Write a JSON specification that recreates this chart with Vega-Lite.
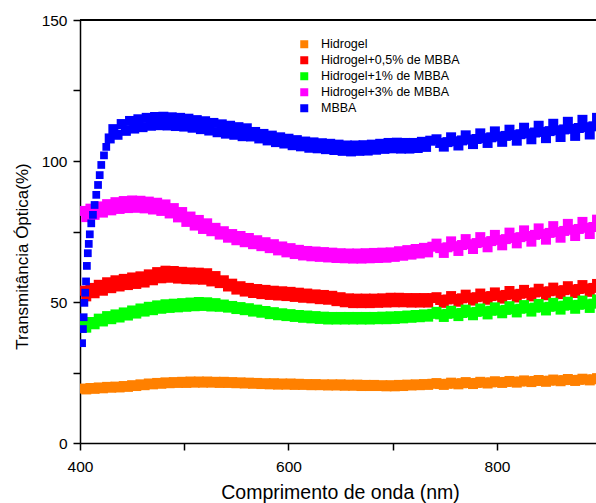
{
"$schema": "https://vega.github.io/schema/vega-lite/v6.json",
"width": 516,
"height": 423,
"autosize": {"type": "none"},
"padding": {"left": 80, "top": 20, "right": 0, "bottom": 60},
"background": "white",
"config": {
  "font": "Liberation Sans",
  "view": {"stroke": null},
  "axis": {"grid": false, "domainColor": "black", "domainWidth": 1.5, "tickColor": "black", "tickWidth": 1.5, "labelColor": "black", "labelFont": "Liberation Sans", "titleColor": "black", "titleFont": "Liberation Sans", "titleFontWeight": "normal"}
},
"datasets": {
"hidrogel": [
{"x":402,"y":19.3},{"x":406,"y":19.0},{"x":410,"y":19.5},{"x":414,"y":19.2},{"x":418,"y":19.7},{"x":422,"y":19.4},{"x":426,"y":19.9},{"x":430,"y":19.6},{"x":434,"y":20.0},{"x":438,"y":19.7},{"x":442,"y":20.2},{"x":446,"y":19.9},{"x":450,"y":20.5},{"x":454,"y":20.2},{"x":458,"y":20.8},{"x":462,"y":20.5},{"x":466,"y":21.1},{"x":470,"y":20.8},{"x":474,"y":21.3},{"x":478,"y":21.0},{"x":482,"y":21.5},{"x":486,"y":21.2},{"x":490,"y":21.6},{"x":494,"y":21.3},{"x":498,"y":21.7},{"x":502,"y":21.3},{"x":506,"y":21.8},{"x":510,"y":21.4},{"x":514,"y":21.8},{"x":518,"y":21.4},{"x":522,"y":21.8},{"x":526,"y":21.4},{"x":530,"y":21.7},{"x":534,"y":21.3},{"x":538,"y":21.7},{"x":542,"y":21.3},{"x":546,"y":21.6},{"x":550,"y":21.2},{"x":554,"y":21.5},{"x":558,"y":21.1},{"x":562,"y":21.4},{"x":566,"y":21.0},{"x":570,"y":21.3},{"x":574,"y":20.9},{"x":578,"y":21.2},{"x":582,"y":20.8},{"x":586,"y":21.2},{"x":590,"y":20.7},{"x":594,"y":21.1},{"x":598,"y":20.7},{"x":602,"y":21.1},{"x":606,"y":20.6},{"x":610,"y":21.0},{"x":614,"y":20.6},{"x":618,"y":20.9},{"x":622,"y":20.5},{"x":626,"y":20.9},{"x":630,"y":20.5},{"x":634,"y":20.8},{"x":638,"y":20.4},{"x":642,"y":20.8},{"x":646,"y":20.4},{"x":650,"y":20.8},{"x":654,"y":20.3},{"x":658,"y":20.7},{"x":662,"y":20.3},{"x":666,"y":20.7},{"x":670,"y":20.2},{"x":674,"y":20.6},{"x":678,"y":20.2},{"x":682,"y":20.6},{"x":686,"y":20.2},{"x":690,"y":20.5},{"x":694,"y":20.1},{"x":698,"y":20.5},{"x":702,"y":20.1},{"x":706,"y":20.6},{"x":710,"y":20.2},{"x":714,"y":20.7},{"x":718,"y":20.4},{"x":722,"y":20.8},{"x":726,"y":20.5},{"x":730,"y":20.9},{"x":734,"y":20.6},{"x":738,"y":21.0},
{"x":742,"y":21.25},{"x":745.5,"y":20.9},{"x":749,"y":20.6},{"x":752.5,"y":21.0},{"x":756,"y":21.4},{"x":759.5,"y":21.1},{"x":763,"y":20.8},{"x":766.5,"y":21.2},{"x":770,"y":21.6},{"x":773.5,"y":21.25},{"x":777,"y":20.9},{"x":780.5,"y":21.3},{"x":784,"y":21.7},{"x":787.5,"y":21.4},{"x":791,"y":21.1},{"x":794.5,"y":21.5},{"x":798,"y":21.9},{"x":801.5,"y":21.6},{"x":805,"y":21.3},{"x":808.5,"y":21.65},{"x":812,"y":22.0},{"x":815.5,"y":21.7},{"x":819,"y":21.4},{"x":822.5,"y":21.8},{"x":826,"y":22.2},{"x":829.5,"y":21.9},{"x":833,"y":21.6},{"x":836.5,"y":22.0},{"x":840,"y":22.35},{"x":843.5,"y":22.0},{"x":847,"y":21.7},{"x":850.5,"y":22.1},{"x":854,"y":22.5},{"x":857.5,"y":22.2},{"x":861,"y":21.9},{"x":864.5,"y":22.3},{"x":868,"y":22.7},{"x":871.5,"y":22.35},{"x":875,"y":22.0},{"x":878.5,"y":22.4},{"x":882,"y":22.8},{"x":885.5,"y":22.5},{"x":889,"y":22.2},{"x":892.5,"y":22.6},{"x":896,"y":23.0}
],
"h05": [
{"x":402,"y":54.0},{"x":406,"y":52.0},{"x":410,"y":55.0},{"x":414,"y":53.1},{"x":418,"y":56.1},{"x":422,"y":54.0},{"x":426,"y":57.0},{"x":430,"y":54.9},{"x":434,"y":57.7},{"x":438,"y":55.5},{"x":442,"y":58.2},{"x":446,"y":56.0},{"x":450,"y":58.7},{"x":454,"y":56.4},{"x":458,"y":59.1},{"x":462,"y":56.9},{"x":466,"y":59.8},{"x":470,"y":57.7},{"x":474,"y":60.6},{"x":478,"y":58.4},{"x":482,"y":61.1},{"x":486,"y":58.6},{"x":490,"y":61.0},{"x":494,"y":58.3},{"x":498,"y":60.7},{"x":502,"y":58.1},{"x":506,"y":60.5},{"x":510,"y":58.0},{"x":514,"y":60.4},{"x":518,"y":57.9},{"x":522,"y":60.2},{"x":526,"y":57.3},{"x":530,"y":59.2},{"x":534,"y":56.7},{"x":538,"y":57.7},{"x":542,"y":55.5},{"x":546,"y":56.5},{"x":550,"y":54.4},{"x":554,"y":55.6},{"x":558,"y":53.7},{"x":562,"y":55.0},{"x":566,"y":53.2},{"x":570,"y":54.6},{"x":574,"y":52.8},{"x":578,"y":54.3},{"x":582,"y":52.5},{"x":586,"y":54.0},{"x":590,"y":52.3},{"x":594,"y":53.8},{"x":598,"y":52.1},{"x":602,"y":53.6},{"x":606,"y":51.8},{"x":610,"y":53.3},{"x":614,"y":51.5},{"x":618,"y":53.0},{"x":622,"y":51.3},{"x":626,"y":52.7},{"x":630,"y":51.0},{"x":634,"y":52.5},{"x":638,"y":50.8},{"x":642,"y":52.2},{"x":646,"y":50.3},{"x":650,"y":51.7},{"x":654,"y":49.9},{"x":658,"y":51.3},{"x":662,"y":49.6},{"x":666,"y":51.2},{"x":670,"y":49.6},{"x":674,"y":51.2},{"x":678,"y":49.6},{"x":682,"y":51.2},{"x":686,"y":49.7},{"x":690,"y":51.3},{"x":694,"y":49.8},{"x":698,"y":51.5},{"x":702,"y":49.9},{"x":706,"y":51.5},{"x":710,"y":49.9},{"x":714,"y":51.4},{"x":718,"y":49.8},{"x":722,"y":51.4},{"x":726,"y":49.8},{"x":730,"y":51.4},{"x":734,"y":49.8},{"x":738,"y":51.4},
{"x":742,"y":51.7},{"x":745.5,"y":50.7},{"x":749,"y":49.7},{"x":752.5,"y":50.9},{"x":756,"y":52.1},{"x":759.5,"y":51.1},{"x":763,"y":50.1},{"x":766.5,"y":51.3},{"x":770,"y":52.6},{"x":773.5,"y":51.5},{"x":777,"y":50.5},{"x":780.5,"y":51.7},{"x":784,"y":53.0},{"x":787.5,"y":51.9},{"x":791,"y":50.8},{"x":794.5,"y":52.1},{"x":798,"y":53.4},{"x":801.5,"y":52.3},{"x":805,"y":51.2},{"x":808.5,"y":52.5},{"x":812,"y":53.9},{"x":815.5,"y":52.7},{"x":819,"y":51.6},{"x":822.5,"y":52.9},{"x":826,"y":54.3},{"x":829.5,"y":53.2},{"x":833,"y":52.0},{"x":836.5,"y":53.4},{"x":840,"y":54.7},{"x":843.5,"y":53.6},{"x":847,"y":52.4},{"x":850.5,"y":53.8},{"x":854,"y":55.1},{"x":857.5,"y":54.0},{"x":861,"y":52.8},{"x":864.5,"y":54.2},{"x":868,"y":55.6},{"x":871.5,"y":54.4},{"x":875,"y":53.2},{"x":878.5,"y":54.6},{"x":882,"y":56.0},{"x":885.5,"y":54.8},{"x":889,"y":53.6},{"x":892.5,"y":55.0},{"x":896,"y":56.4}
],
"h1": [
{"x":402,"y":41.7},{"x":406,"y":40.9},{"x":410,"y":42.9},{"x":414,"y":42.1},{"x":418,"y":44.1},{"x":422,"y":43.1},{"x":426,"y":45.0},{"x":430,"y":43.9},{"x":434,"y":45.6},{"x":438,"y":44.5},{"x":442,"y":46.3},{"x":446,"y":45.2},{"x":450,"y":47.0},{"x":454,"y":45.9},{"x":458,"y":47.7},{"x":462,"y":46.6},{"x":466,"y":48.3},{"x":470,"y":47.1},{"x":474,"y":48.8},{"x":478,"y":47.6},{"x":482,"y":49.2},{"x":486,"y":47.9},{"x":490,"y":49.4},{"x":494,"y":48.1},{"x":498,"y":49.6},{"x":502,"y":48.3},{"x":506,"y":49.8},{"x":510,"y":48.5},{"x":514,"y":50.0},{"x":518,"y":48.6},{"x":522,"y":49.9},{"x":526,"y":48.4},{"x":530,"y":49.6},{"x":534,"y":48.3},{"x":538,"y":49.1},{"x":542,"y":48.0},{"x":546,"y":48.6},{"x":550,"y":47.5},{"x":554,"y":48.2},{"x":558,"y":47.1},{"x":562,"y":47.8},{"x":566,"y":46.6},{"x":570,"y":47.3},{"x":574,"y":46.2},{"x":578,"y":46.8},{"x":582,"y":45.7},{"x":586,"y":46.4},{"x":590,"y":45.3},{"x":594,"y":46.0},{"x":598,"y":45.0},{"x":602,"y":45.7},{"x":606,"y":44.7},{"x":610,"y":45.4},{"x":614,"y":44.4},{"x":618,"y":45.2},{"x":622,"y":44.2},{"x":626,"y":45.0},{"x":630,"y":44.0},{"x":634,"y":44.8},{"x":638,"y":43.8},{"x":642,"y":44.7},{"x":646,"y":43.8},{"x":650,"y":44.7},{"x":654,"y":43.8},{"x":658,"y":44.7},{"x":662,"y":43.8},{"x":666,"y":44.7},{"x":670,"y":43.8},{"x":674,"y":44.7},{"x":678,"y":43.8},{"x":682,"y":44.7},{"x":686,"y":43.9},{"x":690,"y":44.8},{"x":694,"y":43.9},{"x":698,"y":44.9},{"x":702,"y":44.0},{"x":706,"y":45.0},{"x":710,"y":44.2},{"x":714,"y":45.2},{"x":718,"y":44.4},{"x":722,"y":45.4},{"x":726,"y":44.6},{"x":730,"y":45.6},{"x":734,"y":44.8},{"x":738,"y":45.8},
{"x":742,"y":46.5},{"x":745.5,"y":45.6},{"x":749,"y":44.7},{"x":752.5,"y":45.8},{"x":756,"y":46.9},{"x":759.5,"y":46.0},{"x":763,"y":45.0},{"x":766.5,"y":46.1},{"x":770,"y":47.3},{"x":773.5,"y":46.3},{"x":777,"y":45.3},{"x":780.5,"y":46.5},{"x":784,"y":47.7},{"x":787.5,"y":46.7},{"x":791,"y":45.6},{"x":794.5,"y":46.9},{"x":798,"y":48.1},{"x":801.5,"y":47.0},{"x":805,"y":46.0},{"x":808.5,"y":47.2},{"x":812,"y":48.5},{"x":815.5,"y":47.4},{"x":819,"y":46.3},{"x":822.5,"y":47.6},{"x":826,"y":48.9},{"x":829.5,"y":47.8},{"x":833,"y":46.6},{"x":836.5,"y":48.0},{"x":840,"y":49.3},{"x":843.5,"y":48.1},{"x":847,"y":47.0},{"x":850.5,"y":48.3},{"x":854,"y":49.7},{"x":857.5,"y":48.5},{"x":861,"y":47.3},{"x":864.5,"y":48.7},{"x":868,"y":50.1},{"x":871.5,"y":48.9},{"x":875,"y":47.6},{"x":878.5,"y":49.0},{"x":882,"y":50.5},{"x":885.5,"y":49.2},{"x":889,"y":47.9},{"x":892.5,"y":49.4},{"x":896,"y":50.9}
],
"h3": [
{"x":402,"y":82.3},{"x":406,"y":80.1},{"x":410,"y":83.1},{"x":414,"y":80.9},{"x":418,"y":83.9},{"x":422,"y":81.7},{"x":426,"y":84.7},{"x":430,"y":82.5},{"x":434,"y":85.4},{"x":438,"y":83.0},{"x":442,"y":85.8},{"x":446,"y":83.3},{"x":450,"y":86.0},{"x":454,"y":83.4},{"x":458,"y":85.9},{"x":462,"y":83.2},{"x":466,"y":85.6},{"x":470,"y":82.8},{"x":474,"y":85.2},{"x":478,"y":82.3},{"x":482,"y":84.6},{"x":486,"y":81.4},{"x":490,"y":83.3},{"x":494,"y":80.0},{"x":498,"y":81.9},{"x":502,"y":78.4},{"x":506,"y":80.3},{"x":510,"y":77.1},{"x":514,"y":79.1},{"x":518,"y":75.9},{"x":522,"y":77.9},{"x":526,"y":75.1},{"x":530,"y":76.3},{"x":534,"y":73.9},{"x":538,"y":75.1},{"x":542,"y":72.8},{"x":546,"y":74.1},{"x":550,"y":71.9},{"x":554,"y":73.4},{"x":558,"y":71.2},{"x":562,"y":72.7},{"x":566,"y":70.5},{"x":570,"y":71.9},{"x":574,"y":69.8},{"x":578,"y":71.2},{"x":582,"y":69.1},{"x":586,"y":70.5},{"x":590,"y":68.3},{"x":594,"y":69.7},{"x":598,"y":67.6},{"x":602,"y":69.1},{"x":606,"y":67.0},{"x":610,"y":68.5},{"x":614,"y":66.5},{"x":618,"y":68.1},{"x":622,"y":66.2},{"x":626,"y":67.9},{"x":630,"y":66.0},{"x":634,"y":67.7},{"x":638,"y":65.8},{"x":642,"y":67.5},{"x":646,"y":65.6},{"x":650,"y":67.3},{"x":654,"y":65.5},{"x":658,"y":67.2},{"x":662,"y":65.4},{"x":666,"y":67.2},{"x":670,"y":65.4},{"x":674,"y":67.3},{"x":678,"y":65.5},{"x":682,"y":67.4},{"x":686,"y":65.6},{"x":690,"y":67.5},{"x":694,"y":65.7},{"x":698,"y":67.6},{"x":702,"y":66.0},{"x":706,"y":68.0},{"x":710,"y":66.4},{"x":714,"y":68.4},{"x":718,"y":66.8},{"x":722,"y":68.8},{"x":726,"y":67.2},{"x":730,"y":69.2},{"x":734,"y":67.6},{"x":738,"y":69.6},
{"x":742,"y":70.7},{"x":745.5,"y":69.1},{"x":749,"y":67.4},{"x":752.5,"y":69.4},{"x":756,"y":71.5},{"x":759.5,"y":69.8},{"x":763,"y":68.1},{"x":766.5,"y":70.2},{"x":770,"y":72.3},{"x":773.5,"y":70.5},{"x":777,"y":68.8},{"x":780.5,"y":70.9},{"x":784,"y":73.0},{"x":787.5,"y":71.2},{"x":791,"y":69.4},{"x":794.5,"y":71.6},{"x":798,"y":73.8},{"x":801.5,"y":72.0},{"x":805,"y":70.1},{"x":808.5,"y":72.3},{"x":812,"y":74.6},{"x":815.5,"y":72.7},{"x":819,"y":70.8},{"x":822.5,"y":73.0},{"x":826,"y":75.4},{"x":829.5,"y":73.4},{"x":833,"y":71.4},{"x":836.5,"y":73.8},{"x":840,"y":76.1},{"x":843.5,"y":74.1},{"x":847,"y":72.1},{"x":850.5,"y":74.5},{"x":854,"y":76.9},{"x":857.5,"y":74.8},{"x":861,"y":72.8},{"x":864.5,"y":75.2},{"x":868,"y":77.7},{"x":871.5,"y":75.6},{"x":875,"y":73.4},{"x":878.5,"y":75.9},{"x":882,"y":78.4},{"x":885.5,"y":76.3},{"x":889,"y":74.1},{"x":892.5,"y":76.6},{"x":896,"y":79.2}
],
"mbba": [
{"x":428.5,"y":108.0},
{"x":432,"y":111.3},{"x":436,"y":109.3},{"x":440,"y":113.1},{"x":444,"y":110.7},{"x":448,"y":114.2},{"x":452,"y":111.5},{"x":456,"y":114.8},{"x":460,"y":112.0},{"x":464,"y":115.3},{"x":468,"y":112.5},{"x":472,"y":115.6},{"x":476,"y":112.7},{"x":480,"y":115.7},{"x":484,"y":112.6},{"x":488,"y":115.5},{"x":492,"y":112.4},{"x":496,"y":115.3},{"x":500,"y":112.2},{"x":504,"y":115.0},{"x":508,"y":111.8},{"x":512,"y":114.5},{"x":516,"y":111.3},{"x":520,"y":114.1},{"x":524,"y":110.8},{"x":528,"y":113.5},{"x":532,"y":110.2},{"x":536,"y":113.0},{"x":540,"y":109.7},{"x":544,"y":112.5},{"x":548,"y":109.3},{"x":552,"y":112.0},{"x":556,"y":108.8},{"x":560,"y":111.6},{"x":564,"y":108.7},{"x":568,"y":110.3},{"x":572,"y":108.0},{"x":576,"y":109.6},{"x":580,"y":107.3},{"x":584,"y":109.0},{"x":588,"y":106.7},{"x":592,"y":108.4},{"x":596,"y":106.2},{"x":600,"y":107.9},{"x":604,"y":105.6},{"x":608,"y":107.4},{"x":612,"y":105.2},{"x":616,"y":106.9},{"x":620,"y":104.7},{"x":624,"y":106.6},{"x":628,"y":104.5},{"x":632,"y":106.3},{"x":636,"y":104.2},{"x":640,"y":106.1},{"x":644,"y":103.9},{"x":648,"y":105.8},{"x":652,"y":103.6},{"x":656,"y":105.5},{"x":660,"y":103.4},{"x":664,"y":105.5},{"x":668,"y":103.6},{"x":672,"y":105.6},{"x":676,"y":103.7},{"x":680,"y":105.8},{"x":684,"y":104.0},{"x":688,"y":106.1},{"x":692,"y":104.3},{"x":696,"y":106.4},{"x":700,"y":104.5},{"x":704,"y":106.5},{"x":708,"y":104.4},{"x":712,"y":106.4},{"x":716,"y":104.4},{"x":720,"y":106.4},{"x":724,"y":104.6},{"x":728,"y":106.8},{"x":732,"y":105.0},{"x":736,"y":107.2},
{"x":742,"y":107.7},{"x":745.5,"y":106.4},{"x":749,"y":105.1},{"x":752.5,"y":106.7},{"x":756,"y":108.4},{"x":759.5,"y":107.0},{"x":763,"y":105.5},{"x":766.5,"y":107.3},{"x":770,"y":109.1},{"x":773.5,"y":107.6},{"x":777,"y":106.0},{"x":780.5,"y":107.8},{"x":784,"y":109.8},{"x":787.5,"y":108.1},{"x":791,"y":106.4},{"x":794.5,"y":108.4},{"x":798,"y":110.5},{"x":801.5,"y":108.7},{"x":805,"y":106.8},{"x":808.5,"y":108.9},{"x":812,"y":111.1},{"x":815.5,"y":109.2},{"x":819,"y":107.2},{"x":822.5,"y":109.5},{"x":826,"y":111.8},{"x":829.5,"y":109.8},{"x":833,"y":107.7},{"x":836.5,"y":110.1},{"x":840,"y":112.5},{"x":843.5,"y":110.3},{"x":847,"y":108.1},{"x":850.5,"y":110.6},{"x":854,"y":113.2},{"x":857.5,"y":110.9},{"x":861,"y":108.5},{"x":864.5,"y":111.2},{"x":868,"y":113.9},{"x":871.5,"y":111.4},{"x":875,"y":108.9},{"x":878.5,"y":111.7},{"x":882,"y":114.6},{"x":885.5,"y":112.0},{"x":889,"y":109.4},{"x":892.5,"y":112.3},{"x":896,"y":115.3}
],
"mbba_rise": [
{"x":402.0,"y":35.4},{"x":402.8,"y":40.4},{"x":403.5,"y":44.6},{"x":404.2,"y":49.7},{"x":405.0,"y":53.3},{"x":405.8,"y":57.3},{"x":406.6,"y":62.8},{"x":407.5,"y":67.3},{"x":408.4,"y":70.6},{"x":409.4,"y":74.0},{"x":410.8,"y":77.9},{"x":412.4,"y":80.9},{"x":414.0,"y":84.4},{"x":415.6,"y":88.0},{"x":417.3,"y":91.5},{"x":418.9,"y":95.0},{"x":420.4,"y":98.6},{"x":423.0,"y":102.0},{"x":425.2,"y":105.0}
],
"frame": [
{"from": 400, "to": 895, "top": 150}
]
},
"layer": [
{
  "data": {"name": "hidrogel"},
  "mark": {"type": "square", "size": 100, "opacity": 1, "clip": true},
  "encoding": {
    "x": {"field": "x", "type": "quantitative", "scale": {"domain": [400, 895], "nice": false, "zero": false},
      "axis": {"title": "Comprimento de onda (nm)", "titleFontSize": 19.5, "titleX": 260, "titleY": 55, "titleBaseline": "alphabetic", "titleAlign": "center", "values": [400, 500, 600, 700, 800], "labelExpr": "datum.value % 200 == 0 ? datum.label : ''", "labelFontSize": 15.5, "tickSize": 7, "labelPadding": 9, "labelFlush": false}},
    "y": {"field": "y", "type": "quantitative", "scale": {"domain": [0, 150], "nice": false, "zero": true},
      "axis": {"title": "Transmitância Óptica(%)", "titleFontSize": 17, "titleX": -53, "titleY": 236, "titleAngle": -90, "titleAlign": "center", "titleBaseline": "alphabetic", "values": [0, 25, 50, 75, 100, 125, 150], "labelExpr": "datum.value % 50 == 0 ? datum.label : ''", "labelFontSize": 15.5, "tickSize": 7, "labelPadding": 6, "labelFlush": false}},
    "color": {"datum": "Hidrogel", "type": "nominal",
      "scale": {"domain": ["Hidrogel", "Hidrogel+0,5% de MBBA", "Hidrogel+1% de MBBA", "Hidrogel+3% de MBBA", "MBBA"], "range": ["#FF8000", "#FF0000", "#00FF00", "#FF00FF", "#0000FF"]},
      "legend": {"title": null, "orient": "none", "legendX": 218, "legendY": 18, "padding": 0, "symbolType": "square", "symbolSize": 64, "symbolStrokeWidth": 0, "symbolOpacity": 1, "labelFontSize": 12.5, "labelFont": "Liberation Sans", "labelColor": "black", "labelOffset": 10.5, "rowPadding": 3}}
  }
},
{
  "data": {"name": "h05"},
  "mark": {"type": "square", "size": 100, "opacity": 1, "clip": true},
  "encoding": {
    "x": {"field": "x", "type": "quantitative"},
    "y": {"field": "y", "type": "quantitative"},
    "color": {"datum": "Hidrogel+0,5% de MBBA", "type": "nominal"}
  }
},
{
  "data": {"name": "h1"},
  "mark": {"type": "square", "size": 100, "opacity": 1, "clip": true},
  "encoding": {
    "x": {"field": "x", "type": "quantitative"},
    "y": {"field": "y", "type": "quantitative"},
    "color": {"datum": "Hidrogel+1% de MBBA", "type": "nominal"}
  }
},
{
  "data": {"name": "h3"},
  "mark": {"type": "square", "size": 100, "opacity": 1, "clip": true},
  "encoding": {
    "x": {"field": "x", "type": "quantitative"},
    "y": {"field": "y", "type": "quantitative"},
    "color": {"datum": "Hidrogel+3% de MBBA", "type": "nominal"}
  }
},
{
  "data": {"name": "mbba"},
  "mark": {"type": "square", "size": 100, "opacity": 1, "clip": true},
  "encoding": {
    "x": {"field": "x", "type": "quantitative"},
    "y": {"field": "y", "type": "quantitative"},
    "color": {"datum": "MBBA", "type": "nominal"}
  }
},
{
  "data": {"name": "mbba_rise"},
  "mark": {"type": "square", "size": 60, "opacity": 1, "clip": true},
  "encoding": {
    "x": {"field": "x", "type": "quantitative"},
    "y": {"field": "y", "type": "quantitative"},
    "color": {"datum": "MBBA", "type": "nominal"}
  }
},
{
  "data": {"name": "frame"},
  "mark": {"type": "rule", "color": "#000000", "strokeWidth": 2},
  "encoding": {
    "x": {"field": "from", "type": "quantitative"},
    "x2": {"field": "to"},
    "y": {"field": "top", "type": "quantitative"}
  }
}
]
}
